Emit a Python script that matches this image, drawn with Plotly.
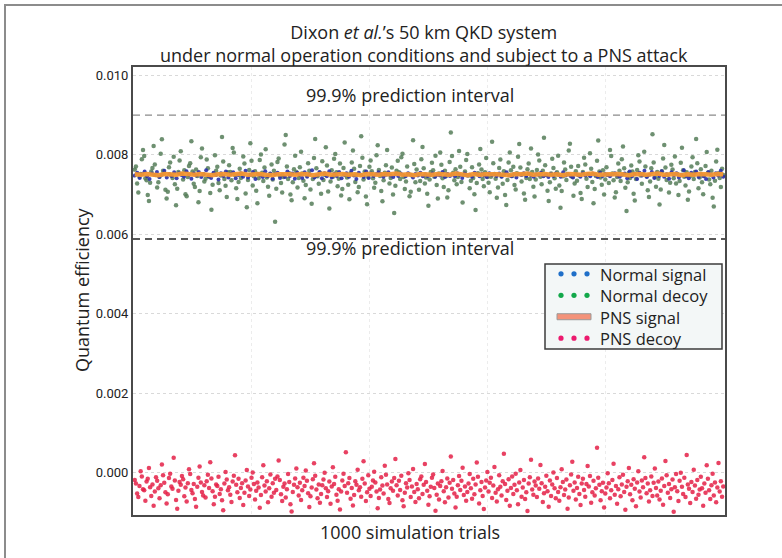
import plotly.graph_objects as go

# ---------------- data (units of 1e-5) ----------------
normal_decoy = [
763, 771, 728, 705, 744, 752, 789, 812, 797, 741, 736, 699, 684, 730, 758, 767, 822, 776, 749, 718,
731, 745, 803, 839, 760, 754, 712, 690, 707, 769, 781, 748, 742, 795, 726, 673, 715, 757, 786, 809,
752, 738, 761, 701, 696, 744, 772, 779, 834, 758, 727, 719, 763, 747, 681, 709, 794, 816, 751, 733,
740, 788, 766, 745, 704, 662, 725, 753, 799, 760, 770, 729, 711, 748, 845, 783, 739, 722, 694, 756,
774, 757, 736, 817, 806, 749, 716, 689, 732, 765, 742, 751, 796, 778, 703, 668, 737, 762, 829, 785,
723, 746, 759, 710, 678, 741, 787, 801, 755, 734, 768, 814, 743, 720, 697, 752, 776, 738, 760, 632,
715, 782, 791, 747, 729, 705, 744, 826, 850, 771, 739, 754, 700, 686, 731, 764, 798, 757, 718, 742,
769, 808, 753, 735, 691, 724, 748, 779, 760, 713, 677, 739, 792, 840, 766, 746, 727, 755, 702, 784,
737, 750, 819, 773, 708, 665, 733, 761, 745, 790, 802, 756, 721, 740, 778, 698, 714, 767, 831, 749,
743, 725, 688, 754, 781, 811, 765, 732, 750, 706, 719, 772, 847, 793, 738, 758, 695, 676, 744, 770,
786, 759, 741, 717, 730, 799, 824, 762, 747, 709, 683, 736, 755, 774, 812, 751, 728, 742, 768, 700,
654, 722, 760, 785, 756, 739, 794, 803, 744, 714, 733, 771, 752, 696, 707, 748, 837, 777, 731, 763,
750, 712, 734, 789, 820, 766, 728, 743, 702, 672, 738, 757, 780, 761, 745, 798, 724, 690, 753, 806,
775, 741, 719, 760, 747, 693, 711, 782, 856, 797, 755, 736, 764, 726, 744, 810, 770, 732, 680, 749,
758, 787, 802, 748, 716, 735, 769, 742, 701, 661, 729, 754, 776, 815, 763, 739, 721, 756, 792, 744,
730, 706, 745, 833, 779, 752, 740, 692, 718, 767, 788, 746, 727, 759, 699, 674, 737, 781, 806, 761,
747, 770, 724, 713, 754, 795, 827, 768, 733, 751, 703, 687, 742, 764, 778, 739, 816, 757, 720, 695,
738, 762, 801, 786, 745, 726, 760, 843, 774, 749, 710, 684, 731, 753, 790, 767, 741, 715, 756, 798,
723, 667, 709, 746, 781, 763, 737, 752, 811, 828, 770, 744, 697, 728, 759, 735, 772, 748, 704, 689,
757, 793, 776, 740, 719, 751, 804, 765, 732, 678, 714, 747, 785, 836, 758, 743, 725, 761, 700, 738,
769, 750, 729, 812, 797, 753, 736, 693, 706, 744, 778, 760, 734, 789, 821, 766, 717, 659, 731, 755,
742, 773, 758, 702, 685, 739, 762, 799, 783, 748, 727, 751, 808, 771, 746, 711, 694, 733, 766, 852,
781, 744, 720, 757, 740, 675, 713, 759, 791, 825, 768, 737, 749, 705, 730, 775, 763, 741, 796, 728,
752, 699, 734, 780, 818, 761, 745, 723, 756, 687, 708, 747, 771, 794, 739, 757, 840, 779, 716, 743,
764, 731, 701, 748, 772, 807, 755, 738, 726, 760, 692, 670, 735, 783, 813, 754, 742, 719, 765, 749,
]

pns_decoy = [
-18, -27, -52, -61, -33, 4, -9, -41, -44, -70, -22, -15, 12, -36, -58, -29, -83, -47, -11, -20,
-39, -64, -31, 21, -6, -25, -49, -77, -54, -13, -2, -34, -40, 38, -19, -68, -90, -45, -23, -30,
-8, -16, -59, -37, -72, -26, 9, -3, -43, -51, -28, -66, -85, -35, -12, 16, -24, -48, -57, -31,
-62, -21, -5, -38, 27, -14, -46, -79, -60, -29, -33, -10, -53, -41, -69, -94, -27, 2, -17, -44,
-36, -55, -73, -22, -7, 44, -30, -49, -15, -63, -38, -26, -81, -50, -19, 7, -34, -58, -42, -12,
1, -28, -67, -45, -24, -37, -88, -56, -11, 19, -32, -47, -21, -74, -39, -4, -60, -26, -50, -15,
-43, -9, 31, -18, -54, -71, -35, -27, -62, -41, -3, -23, -79, -97, -48, -30, -14, 11, -36, -57,
-25, -68, -44, -12, -33, 6, -20, -51, -86, -59, -37, -16, 24, -7, -42, -64, -29, -75, -53, -31,
-17, 0, -39, -61, -46, -22, -78, -34, 14, -28, -10, -55, -70, -41, -92, -47, -19, -2, -33, 52,
-50, -26, -13, -65, -38, -82, -56, -21, -30, 8, -44, -36, -60, -15, 29, -27, -71, -49, -6, -40,
-58, -35, -19, 3, -24, -47, -89, -63, -42, -11, -32, -52, 18, -5, -29, -66, -76, -39, -22, -45,
-13, 35, -31, -57, -20, -43, -7, -69, -84, -50, -26, -37, -1, -18, -61, -34, 10, -48, -73, -28,
-41, -64, -16, -9, -53, -30, 22, -23, -45, -80, -59, -35, -12, -4, -38, -95, -55, -27, -67, -33,
-21, 5, -46, -74, -36, -14, -62, -25, 41, -40, -18, -52, -87, -60, -31, -8, -43, -20, 13, -56,
-34, -70, -48, -27, -3, -39, -65, -15, -54, -29, 26, -10, -77, -44, -23, -58, -91, -37, -19, 2,
-47, -25, -12, -63, -32, 15, -50, -72, -41, -6, -35, -57, -21, 48, -28, -68, -45, -16, -83, -38,
-9, -53, -30, -2, -44, -79, -24, 7, -60, -37, -18, -66, -49, -96, -27, -11, 33, -42, -55, -22,
-32, -61, -14, -40, 20, -26, -73, -51, -35, -7, -46, -85, -19, -58, -29, 1, -39, -64, -13, -48,
-70, -36, 9, -23, -56, -42, -17, -90, -62, -31, -4, 28, -45, -24, -67, -38, -10, -53, -81, -27,
-15, -43, -60, -28, 17, -34, -8, -75, -49, -20, -57, -39, 63, -12, -30, -69, -46, -25, -87, -52,
-37, -1, -26, -64, -44, -18, 23, -55, -33, -78, -41, -11, -59, -29, -5, -48, -93, -35, -21, 12,
-54, -30, -69, -16, -40, -84, -24, 4, -47, -62, -19, -36, 39, -13, -51, -27, -72, -44, -9, -58,
-25, 11, -38, -57, -22, -67, -45, -14, -80, -33, 30, -6, -50, -28, -63, -41, -17, -98, -36, -3,
-46, -71, -20, 0, -35, -53, -12, -61, 45, -29, -40, -76, -23, -48, 8, -32, -65, -18, -55, -42,
-10, -39, -83, -27, -50, 19, -15, -44, -66, -31, -2, -57, -24, -74, -37, 25, -47, -21, -60, -34,
]

normal_signal = [
748, 755, 742, 751, 758, 746, 739, 753, 749, 757, 744, 750, 760, 743, 752, 747, 756, 741, 754, 749,
745, 759, 750, 740, 753, 748, 757, 744, 751, 761, 746, 742, 755, 749, 738, 754, 747, 758, 743, 752,
756, 741, 749, 754, 745, 760, 743, 750, 757, 739, 752, 748, 744, 759, 746, 753, 740, 751, 755, 742,
750, 744, 758, 747, 753, 740, 755, 749, 742, 756, 745, 751, 761, 743, 748, 757, 741, 754, 746, 759,
743, 752, 747, 757, 741, 750, 754, 745, 760, 748, 739, 755, 749, 744, 758, 742, 753, 747, 751, 756,
752, 745, 750, 756, 748, 744, 751, 747, 753, 749, 746, 754, 750, 743, 752, 748, 755, 746, 751, 747,
749, 753, 745, 750, 748, 757, 744, 752, 747, 751, 746, 754, 749, 742, 753, 748, 750, 745, 755, 751,
746, 752, 748, 744, 754, 749, 751, 747, 753, 745, 750, 756, 748, 746, 752, 743, 751, 749, 754, 747,
753, 748, 745, 751, 750, 755, 746, 749, 744, 752, 747, 753, 750, 745, 756, 748, 751, 747, 743, 752,
749, 745, 754, 748, 751, 746, 753, 750, 744, 755, 747, 752, 749, 746, 751, 754, 748, 745, 750, 753,
741, 758, 746, 752, 739, 755, 748, 760, 744, 750, 757, 742, 753, 747, 759, 745, 751, 740, 756, 749,
754, 743, 750, 761, 747, 741, 755, 749, 758, 744, 752, 746, 739, 757, 750, 743, 754, 748, 760, 745,
]

pns_signal = [
751, 750, 752, 751, 749, 752, 751, 750, 753, 751, 750, 752, 751, 749, 751, 752, 750, 751, 753, 750,
751, 752, 750, 749, 751, 752, 751, 750, 752, 751, 749, 751, 753, 750, 751, 752, 750, 751, 749, 752,
751, 750, 752, 751, 753, 750, 751, 749, 752, 751, 750, 752, 751, 750, 753, 751, 749, 752, 750, 751,
752, 751, 750, 749, 752, 751, 753, 750, 751, 752, 750, 751, 749, 752, 751, 750, 752, 753, 750, 751,
750, 752, 751, 749, 751, 752, 750, 751, 753, 750, 751, 752, 749, 751, 750, 752, 751, 750, 752, 751,
]

upper_pi = 0.0090
lower_pi = 0.00588
y_ticks = [0.000, 0.002, 0.004, 0.006, 0.008, 0.010]
y_tick_labels = ["0.000", "0.002", "0.004", "0.006", "0.008", "0.010"]
legend_labels = ["Normal signal", "Normal decoy", "PNS signal", "PNS decoy"]
legend_colors = ["#1f6fc8", "#12a84a", "#f4937a", "#ec1a6e"]
legend_kinds = ["dots", "dots", "line", "dots"]
title_lines = ["Dixon <i>et al.</i>’s 50 km QKD system",
               "under normal operation conditions and subject to a PNS attack"]
n_trials = 1000

scale = 1e-5
def trials_for(vals):
    n = len(vals)
    return [1 + i * (n_trials - 1) / (n - 1) for i in range(n)]

fig = go.Figure()
fig.add_trace(go.Scatter(x=trials_for(normal_decoy), y=[v * scale for v in normal_decoy],
                         mode="markers", name="Normal decoy",
                         marker=dict(size=4.5, color="rgba(85,125,88,0.85)", line=dict(width=0))))
fig.add_trace(go.Scatter(x=trials_for(normal_signal), y=[v * scale for v in normal_signal],
                         mode="markers", name="Normal signal",
                         marker=dict(size=4, color="rgba(40,45,170,0.9)", line=dict(width=0))))
fig.add_trace(go.Scatter(x=trials_for(pns_signal), y=[v * scale for v in pns_signal],
                         mode="lines", name="PNS signal",
                         line=dict(width=4.5, color="rgba(244,150,48,0.95)")))
fig.add_trace(go.Scatter(x=trials_for(pns_decoy), y=[v * scale for v in pns_decoy],
                         mode="markers", name="PNS decoy",
                         marker=dict(size=4.5, color="rgba(228,32,70,0.85)", line=dict(width=0))))

# geometry helpers (pixels -> paper) for layout decorations
L, R, T, B = 133, 725, 67, 515
W, H = 782, 558
def px(x):
    return (x - L) / (R - L)
def py(y):
    return (B - y) / (B - T)

shapes = []
shapes.append(dict(type="line", xref="paper", x0=0, x1=1, yref="y", y0=upper_pi, y1=upper_pi,
                   line=dict(color="#8a8a8a", width=1.3, dash="7px,5px")))
shapes.append(dict(type="line", xref="paper", x0=0, x1=1, yref="y", y0=lower_pi, y1=lower_pi,
                   line=dict(color="#222222", width=1.5, dash="7px,5px")))
# outer frame of the figure
shapes.append(dict(type="rect", xref="paper", yref="paper", x0=px(5), x1=px(820), y0=py(600), y1=py(5),
                   line=dict(color="#8c8c8c", width=2), layer="below"))
# legend box
shapes.append(dict(type="rect", xref="paper", yref="paper", x0=px(545), x1=px(722), y0=py(349), y1=py(264),
                   line=dict(color="#3c3c3c", width=1.5), fillcolor="#f3f7f7", layer="above"))

leg_font = 16.5
leg_center = 306.0
leg_step = leg_font * 1.3
row_y = [leg_center + (i - 1.5) * leg_step for i in range(4)]
for col, kind, yy in zip(legend_colors, legend_kinds, row_y):
    if kind == "dots":
        for cx in (561, 574, 587):
            shapes.append(dict(type="circle", xref="paper", yref="paper",
                               x0=px(cx - 2.6), x1=px(cx + 2.6), y0=py(yy + 2.6), y1=py(yy - 2.6),
                               fillcolor=col, line=dict(width=0), layer="above"))
    else:
        shapes.append(dict(type="rect", xref="paper", yref="paper",
                           x0=px(557), x1=px(591), y0=py(yy + 3), y1=py(yy - 3),
                           fillcolor=col, line=dict(color="#9a9a9a", width=1), layer="above"))

annotations = []
annotations.append(dict(text="<br>".join(legend_labels), xref="paper", yref="paper",
                        x=px(599), y=py(leg_center), xanchor="left", yanchor="middle", align="left",
                        showarrow=False, borderpad=0,
                        font=dict(family="Open Sans", size=leg_font, color="#222")))
for yy in (95, 248):
    annotations.append(dict(text="99.9% prediction interval", xref="paper", yref="paper",
                            x=px(410), y=py(yy), xanchor="center", yanchor="middle", showarrow=False,
                            font=dict(family="Open Sans", size=18, color="#222")))
annotations.append(dict(text="<br>".join(title_lines), xref="paper", yref="paper", x=px(424), y=py(44),
                        xanchor="center", yanchor="middle", showarrow=False, borderpad=0,
                        font=dict(family="Open Sans", size=18, color="#222")))
annotations.append(dict(text="1000 simulation trials", xref="paper", yref="paper", x=px(410), y=py(532),
                        xanchor="center", yanchor="middle", showarrow=False,
                        font=dict(family="Open Sans", size=18, color="#222")))
annotations.append(dict(text="Quantum efficiency", xref="paper", yref="paper", x=px(82), y=py(290),
                        xanchor="center", yanchor="middle", showarrow=False, textangle=-90,
                        font=dict(family="Open Sans", size=18, color="#222")))

fig.update_layout(
    width=W, height=H,
    margin=dict(l=L, r=W - R, t=T, b=H - B),
    paper_bgcolor="white", plot_bgcolor="white",
    showlegend=False,
    shapes=shapes, annotations=annotations,
    font=dict(family="Roboto", color="#222"),
)
fig.update_xaxes(range=[-2, n_trials + 3], showticklabels=False, ticks="",
                 tickvals=[200, 400, 600, 800], showgrid=True, gridcolor="#ececec", griddash="dot",
                 gridwidth=1, zeroline=False, showline=True, linecolor="#4a4a4a", linewidth=2, mirror=True)
fig.update_yaxes(range=[-0.00106, 0.01021], tickvals=y_ticks, ticktext=y_tick_labels, ticks="",
                 tickfont=dict(family="Roboto", size=13, color="#222"),
                 showgrid=True, gridcolor="#d9d9d9", griddash="dot", gridwidth=1, zeroline=False,
                 showline=True, linecolor="#4a4a4a", linewidth=2, mirror=True)

fig.write_html("out.html", config={"displayModeBar": False},
               post_script="document.body.style.margin='0px';")
